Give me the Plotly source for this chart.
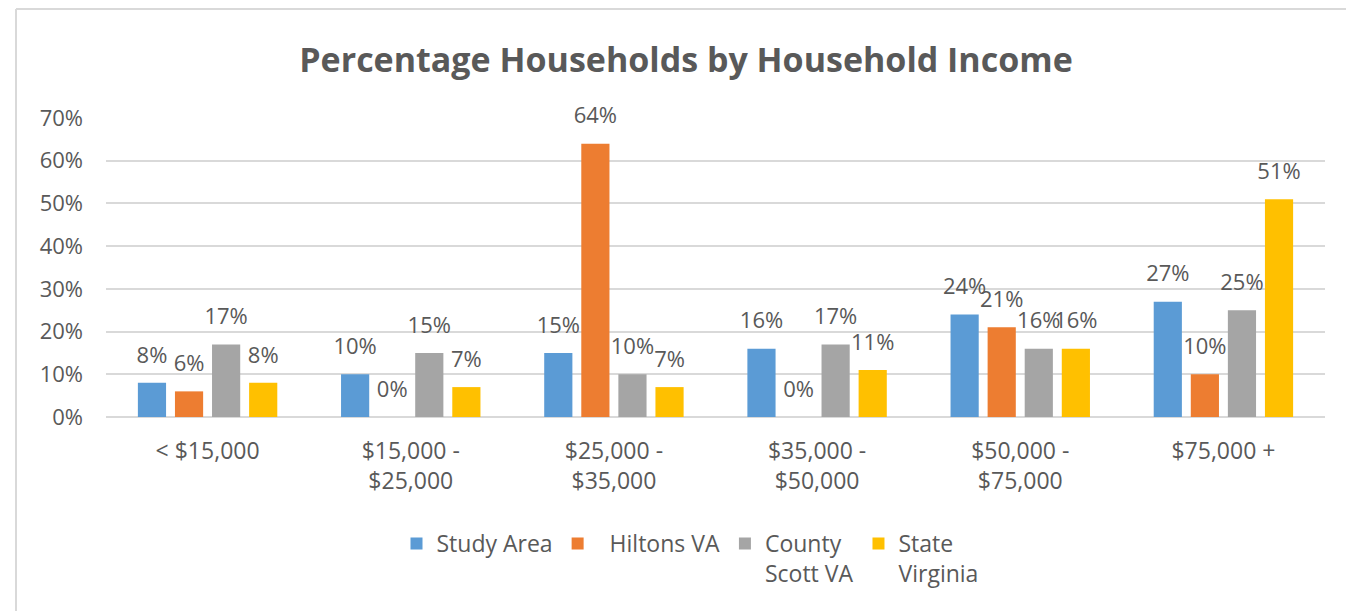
import plotly.graph_objects as go

categories = ["< $15,000", "$15,000 -<br>$25,000", "$25,000 -<br>$35,000",
              "$35,000 -<br>$50,000", "$50,000 -<br>$75,000", "$75,000 +"]
series_names = ["Study Area", "  Hiltons VA", "County<br>Scott VA", "State<br>Virginia"]
study_area = [8, 10, 15, 16, 24, 27]
hiltons_va = [6, 0, 64, 0, 21, 10]
county_scott = [17, 15, 10, 17, 16, 25]
state_virginia = [8, 7, 7, 11, 16, 51]
colors = ["#5B9BD5", "#ED7D31", "#A5A5A5", "#FFC000"]
y_ticks = [0, 10, 20, 30, 40, 50, 60, 70]

FONT = "'Open Sans', sans-serif"
TXT = "#595959"

fig = go.Figure()
for name, vals, col in zip(series_names, [study_area, hiltons_va, county_scott, state_virginia], colors):
    fig.add_trace(go.Bar(
        x=categories, y=vals, name=name, marker_color=col, marker_line_width=0,
        text=[f"<span style='font-size:22px'>{v}%</span><br> " for v in vals],
        textposition="outside", constraintext="none",
        textfont=dict(size=11, color=TXT, family=FONT), cliponaxis=False,
    ))

W, H = 1346, 611
L, T = 106, 118
R = W - 1325
B = H - 417
pw, ph = W - L - R, H - T - B

y_top = (T + ph - 9) / ph
x_left = (16 - L) / pw

fig.update_layout(
    width=W, height=H, autosize=False,
    margin=dict(l=L, r=R, t=T, b=B),
    paper_bgcolor="white", plot_bgcolor="white",
    barmode="group", bargap=0.27, bargroupgap=0.24,
    font=dict(family=FONT, color=TXT, size=22),
    title=dict(text="<b>Percentage Households by Household Income</b>",
               x=686 / W, xref="container", xanchor="center",
               y=1 - 60 / H, yref="container", yanchor="middle",
               font=dict(size=34, color=TXT, family=FONT)),
    legend=dict(orientation="h", xref="container", x=690 / W, xanchor="center",
                yref="container", y=1 - 522 / H, yanchor="top", valign="top",
                font=dict(size=23, color=TXT, family=FONT), traceorder="normal",
                itemwidth=30),
    shapes=[
        dict(type="line", xref="paper", yref="paper", x0=x_left, x1=(W + 20 - L) / pw,
             y0=y_top, y1=y_top, line=dict(color="#D9D9D9", width=2), layer="below"),
        dict(type="line", xref="paper", yref="paper", x0=x_left, x1=x_left,
             y0=y_top, y1=(T + ph - (H + 20)) / ph, line=dict(color="#D9D9D9", width=2), layer="below"),
    ],
)
fig.update_yaxes(range=[0, 70], tickvals=y_ticks, ticktext=[f"{v}%" for v in y_ticks],
                 showgrid=True, gridcolor="#D9D9D9", gridwidth=1.5,
                 zeroline=True, zerolinecolor="#D9D9D9", zerolinewidth=1.5,
                 showline=False, ticks="", ticklabelstandoff=22,
                 tickfont=dict(size=22, color=TXT, family=FONT))
fig.update_xaxes(showgrid=False, showline=False, ticks="", ticklabelstandoff=18,
                 tickfont=dict(size=23, color=TXT, family=FONT))

fig.write_html("out.html", config={"displayModeBar": False},
               post_script="document.body.style.margin='0';document.body.style.overflow='hidden';")
